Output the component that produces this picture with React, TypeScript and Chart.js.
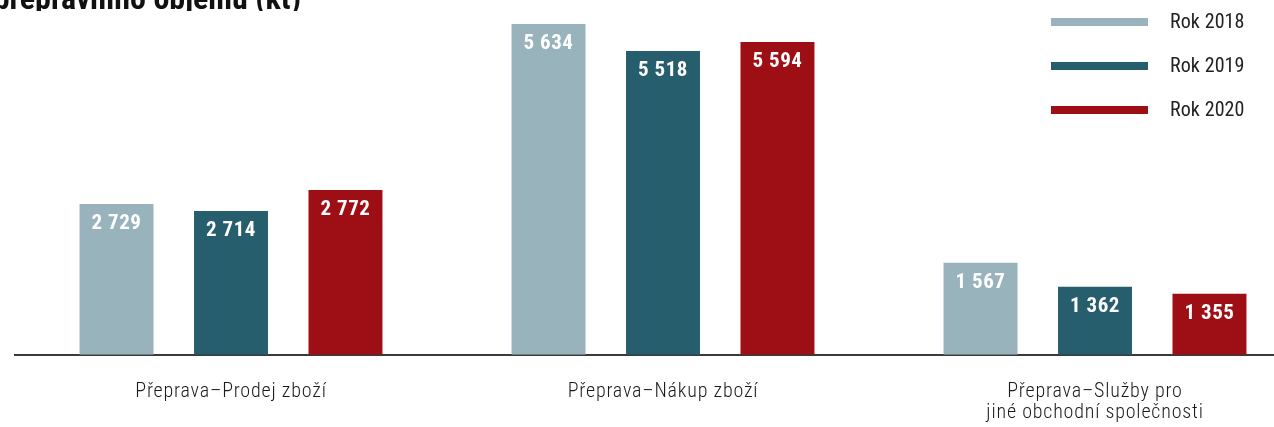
import React, { useEffect, useRef } from "react";
import { Chart, registerables } from "chart.js";

Chart.register(...registerables);

// ---- data ----
const categories: (string | string[])[] = [
  "Přeprava–Prodej zboží",
  "Přeprava–Nákup zboží",
  ["Přeprava–Služby pro", "jiné obchodní společnosti"],
];
const seriesNames = ["Rok 2018", "Rok 2019", "Rok 2020"];
// bar heights as drawn in the picture (axis units, kt)
const values2018 = [2569, 5632, 1565];
const values2019 = [2450, 5172, 1157];
const values2020 = [2807, 5325, 1038];
// value labels printed on the bars
const labels2018 = ["2 729", "5 634", "1 567"];
const labels2019 = ["2 714", "5 518", "1 362"];
const labels2020 = ["2 772", "5 594", "1 355"];
const seriesColors = ["#99b3bd", "#265e6e", "#9e0f15"];
const titleText = "Vývoj přepravního objemu (kt)";

const valueLabels = [labels2018, labels2019, labels2020];
const FONT = "'Roboto Condensed', 'DejaVu Sans Condensed', sans-serif";

const spacingPlugin = {
  id: "tickSpacing",
  beforeDraw(chart: any) {
    chart.ctx.letterSpacing = "0.8px";
  },
  beforeDatasetsDraw(chart: any) {
    chart.ctx.letterSpacing = "0px";
  },
};

const dataLabelPlugin = {
  id: "barValueLabels",
  afterDatasetsDraw(chart: any) {
    const ctx = chart.ctx;
    ctx.save();
    ctx.font = `bold 21px ${FONT}`;
    ctx.letterSpacing = "0.5px";
    ctx.fillStyle = "#ffffff";
    ctx.textAlign = "center";
    ctx.textBaseline = "middle";
    chart.data.datasets.forEach((_ds: any, i: number) => {
      const meta = chart.getDatasetMeta(i);
      meta.data.forEach((bar: any, j: number) => {
        ctx.fillText(valueLabels[i][j], bar.x, bar.y + 19.5);
      });
    });
    ctx.restore();
  },
};

const legendAndTitlePlugin = {
  id: "legendAndTitle",
  afterDraw(chart: any) {
    const ctx = chart.ctx;
    ctx.save();
    chart.data.datasets.forEach((ds: any, i: number) => {
      const y = 22 + i * 44;
      ctx.fillStyle = ds.backgroundColor;
      ctx.fillRect(1051, y - 4, 97, 8);
      ctx.fillStyle = "#222222";
      ctx.font = `20px ${FONT}`;
      ctx.letterSpacing = "0.1px";
      ctx.textAlign = "left";
      ctx.textBaseline = "middle";
      ctx.fillText(ds.label, 1170, y + 1);
    });
    ctx.restore();

    // title: only its lower strip is visible in the picture
    ctx.save();
    ctx.beginPath();
    ctx.rect(0, 0, 400, 11);
    ctx.clip();
    ctx.font = `bold 32px ${FONT}`;
    ctx.letterSpacing = "0px";
    ctx.fillStyle = "#111111";
    ctx.textAlign = "right";
    ctx.textBaseline = "alphabetic";
    ctx.fillText(titleText, 301, 9);
    ctx.restore();
  },
};

export default function App() {
  const canvasRef = useRef<HTMLCanvasElement | null>(null);

  useEffect(() => {
    if (!canvasRef.current) return;
    const seriesValues = [values2018, values2019, values2020];
    const chart = new Chart(canvasRef.current, {
      type: "bar",
      data: {
        labels: categories,
        datasets: seriesNames.map((name, i) => ({
          label: name,
          data: seriesValues[i],
          backgroundColor: seriesColors[i],
          borderWidth: 0,
          categoryPercentage: 0.795,
          barPercentage: 0.646,
        })),
      },
      options: {
        animation: false,
        responsive: true,
        maintainAspectRatio: false,
        layout: { padding: { left: 15, right: 19, top: 0, bottom: -23 } },
        plugins: {
          legend: { display: false },
          title: { display: false },
          tooltip: { enabled: false },
        },
        scales: {
          x: {
            grid: { display: false, drawTicks: false },
            border: { display: true, color: "#3a3a3a", width: 2 },
            ticks: {
              padding: 26,
              color: "#1a1a1a",
              maxRotation: 0,
              autoSkip: false,
              font: { family: FONT, size: 20, weight: "300" as any, lineHeight: 1.08 },
            },
          },
          y: { display: false, min: 0, max: 6040 },
        },
      },
      plugins: [spacingPlugin, dataLabelPlugin, legendAndTitlePlugin],
    });
    return () => chart.destroy();
  }, []);

  return (
    <div
      style={{
        position: "fixed",
        left: 0,
        top: 0,
        width: 1274,
        height: 427,
        overflow: "hidden",
        background: "#ffffff",
      }}
    >
      <div style={{ position: "relative", width: 1330, height: 427 }}>
        <canvas ref={canvasRef} />
      </div>
    </div>
  );
}
